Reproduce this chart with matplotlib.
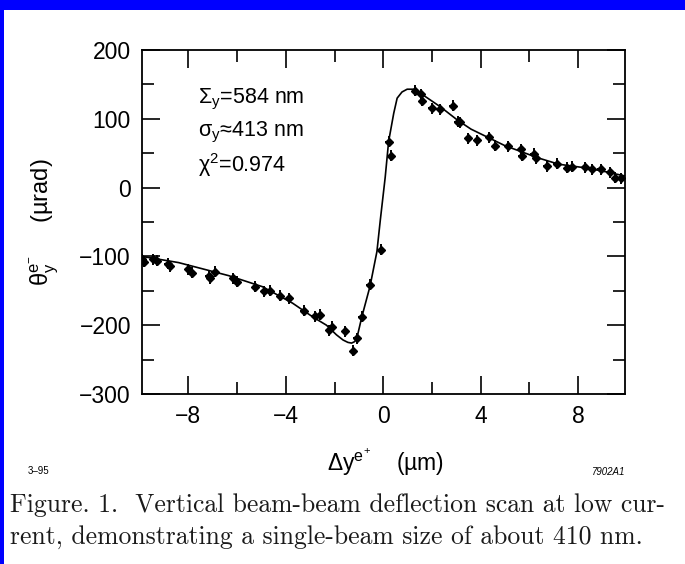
import matplotlib
matplotlib.use("Agg")
import matplotlib.pyplot as plt
from matplotlib.patches import Rectangle

# ---- data ----
data_x = [-9.9, -9.8, -9.45, -9.3, -8.85, -8.76, -8.0, -7.83, -7.17, -7.1, -6.92,
          -6.15, -6.02, -5.26, -4.89, -4.65, -4.24, -3.85, -3.27, -2.82, -2.61,
          -2.21, -2.1, -1.57, -1.24, -1.09, -0.88, -0.55, -0.11,
          0.22, 0.32, 1.3, 1.56, 1.6, 1.98, 2.33, 2.85, 3.05, 3.17, 3.49, 3.85,
          4.36, 4.6, 5.1, 5.65, 5.68, 6.18, 6.28, 6.7, 7.12, 7.56, 7.75, 8.28,
          8.55, 8.92, 9.3, 9.52, 9.77]
data_y = [-104, -108, -104, -106, -111, -114, -119, -124, -128, -132, -122,
          -132, -137, -144, -151, -150, -157, -161, -179, -187, -185,
          -207, -202, -209, -237, -219, -188, -141, -90,
          67, 46, 141, 136, 126, 115, 114, 119, 96, 95, 72, 69,
          73, 61, 60, 56, 46, 49, 43, 31, 35, 29, 30, 29.5,
          27, 27, 22, 14, 13.5]

fit_x = [-9.9, -8.4, -6.34, -4.96, -3.72, -2.89, -2.33, -1.92, -1.65, -1.45, -1.3,
         -1.18, -1.09, -0.88, -0.54, -0.26, -0.12, 0.08, 0.22, 0.43, 0.57, 0.77,
         0.98, 1.26, 1.74, 2.36, 3.05, 3.6, 4.99, 6.37, 7.2, 8.44, 9.13, 9.9]
fit_y = [-100, -109, -128, -144, -168, -188, -200, -214, -221.5, -225, -226,
         -224, -220, -188, -143, -93, -47, 15, 67, 108, 130, 139,
         143, 143, 132, 117, 98, 85, 61, 43, 34, 28, 23, 17]

x_major = [-8, -4, 0, 4, 8]
x_minor = [-6, -2, 2, 6]
y_major = [-300, -200, -100, 0, 100, 200]
y_minor = [-250, -150, -50, 50, 150]

SANS = ['Liberation Sans', 'DejaVu Sans']
plt.rcParams['font.family'] = SANS
plt.rcParams['mathtext.fontset'] = 'custom'
plt.rcParams['mathtext.rm'] = 'Liberation Sans'
plt.rcParams['mathtext.it'] = 'Liberation Sans:italic'

fig = plt.figure(figsize=(6.85, 5.64), dpi=100)
fig.patch.set_facecolor('white')

# blue frame (top and left)
fig.add_artist(Rectangle((0, 1 - 10 / 564), 1, 10 / 564, transform=fig.transFigure,
                         facecolor='#0000ff', edgecolor='none'))
fig.add_artist(Rectangle((0, 0), 4 / 685, 1, transform=fig.transFigure,
                         facecolor='#0000ff', edgecolor='none'))

ax = fig.add_axes([142 / 685, 1 - 394 / 564, (624.5 - 142) / 685, (394 - 50) / 564])
ax.plot(fit_x, fit_y, color='black', lw=1.2, zorder=2)
ax.errorbar(data_x, data_y, yerr=8, xerr=0.14, fmt='D', color='black',
            markersize=4.5, elinewidth=1.4, capsize=0, zorder=3)

ax.set_xlim(-9.9, 9.9)
ax.set_ylim(-300, 200)
ax.set_xticks(x_major)
ax.set_xticklabels(['\u22128', '\u22124', '0', '4', '8'])
ax.set_xticks(x_minor, minor=True)
ax.set_yticks(y_major)
ax.set_yticklabels(['\u2212300', '\u2212200', '\u2212100', '0', '100', '200'])
ax.set_yticks(y_minor, minor=True)
ax.tick_params(which='both', direction='in', top=True, right=True, width=1.2,
               labelsize=16.5, colors='black')
ax.tick_params(which='major', length=13, pad=8)
ax.tick_params(which='minor', length=8.5)
for s in ax.spines.values():
    s.set_linewidth(1.3)

ax.text(0.116, 0.855, 'Σ$_\\mathregular{y}$=584 nm', transform=ax.transAxes, fontsize=15.5,
        ha='left', va='center')
ax.text(0.116, 0.759, 'σ$_\\mathregular{y}$≈413 nm', transform=ax.transAxes, fontsize=15.5,
        ha='left', va='center')
ax.text(0.116, 0.666, 'χ$^\\mathregular{2}$=0.974', transform=ax.transAxes, fontsize=15.5,
        ha='left', va='center')

fig.text(44 / 685, 1 - 222 / 564,
         'θ$_\\mathregular{y}^{\\mathregular{e}^{-}}$     (µrad)',
         rotation=90, ha='center', va='center', fontsize=17)
fig.text(386 / 685, 1 - 462 / 564,
         'Δy$^{\\mathregular{e}^{+}}$    (µm)',
         ha='center', va='center', fontsize=16.5)

fig.text(28 / 685, 1 - 471 / 564, '3–95', fontsize=7, ha='left', va='center')
fig.text(625 / 685, 1 - 472 / 564, '7902A1', fontsize=7, ha='right', va='center',
         style='italic')

cap = ['cmr10', 'DejaVu Serif']
fig.text(10 / 685, 1 - 505 / 564,
         'Figure. 1.  Vertical beam-beam deflection scan at low cur-',
         family=cap, fontsize=18.5, ha='left', va='center', color='#1a1a1a')
fig.text(10 / 685, 1 - 537 / 564,
         'rent, demonstrating a single-beam size of about 410 nm.',
         family=cap, fontsize=18.5, ha='left', va='center', color='#1a1a1a')

fig.savefig('out.png', dpi=100, facecolor='white')
